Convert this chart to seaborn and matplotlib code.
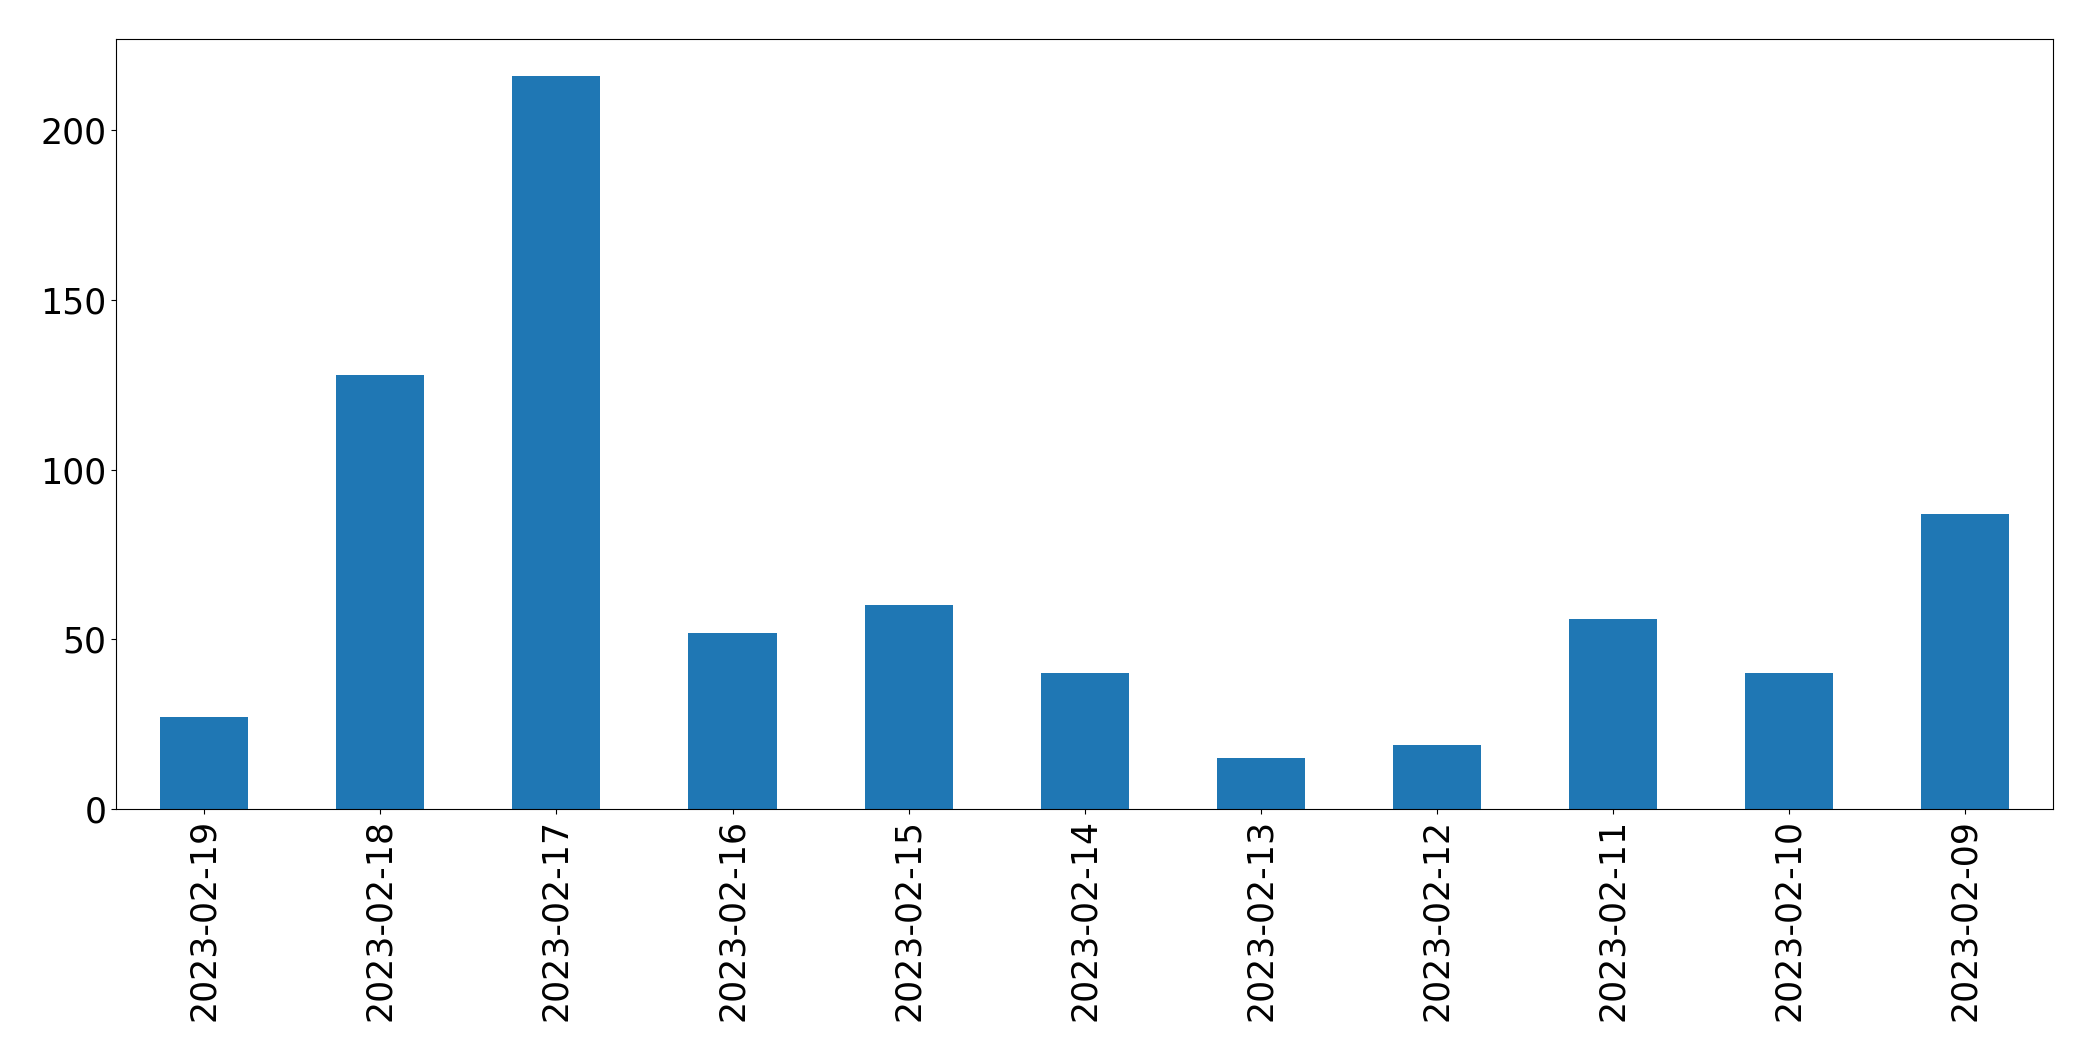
import seaborn as sns
import pandas as pd
import matplotlib.pyplot as plt

dates = ["2023-02-19", "2023-02-18", "2023-02-17", "2023-02-16", "2023-02-15",
         "2023-02-14", "2023-02-13", "2023-02-12", "2023-02-11", "2023-02-10",
         "2023-02-09"]
counts = [27, 128, 216, 52, 60, 40, 15, 19, 56, 40, 87]

df = pd.DataFrame({"date": dates, "count": counts})

fig, ax = plt.subplots(figsize=(20.93, 10.61), dpi=100)
sns.barplot(data=df, x="date", y="count", order=dates, color="#1f77b4",
            saturation=1, width=0.5, ax=ax)
ax.set_xlim(-0.5, len(dates) - 0.5)
ax.set_ylim(0, max(counts) * 1.05)
ax.set_xlabel("")
ax.set_ylabel("")
ax.tick_params(axis="both", labelsize=25)
plt.setp(ax.get_xticklabels(), rotation=90)
for s in ax.spines.values():
    s.set_color("black")
fig.subplots_adjust(left=0.0555, right=0.981, top=0.963, bottom=0.2375)
fig.savefig("out.png")
